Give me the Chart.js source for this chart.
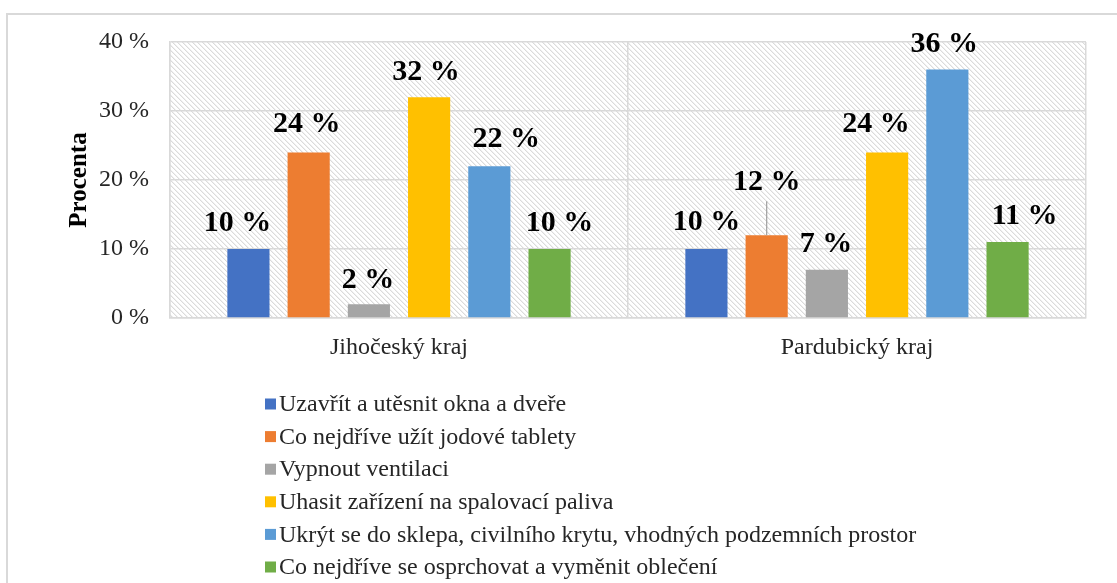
<!DOCTYPE html>
<html>
<head>
<meta charset="utf-8">
<script src="https://cdn.jsdelivr.net/npm/chart.js@4/dist/chart.umd.min.js"></script>
<style>
  html, body { margin: 0; padding: 0; background: #fff; }
  #wrap { position: relative; width: 1117px; height: 583px; overflow: hidden; }
  #frame { position: absolute; left: 6px; top: 13px; width: 1200px; height: 700px;
           border-top: 2px solid #d9d9d9; border-left: 2px solid #d9d9d9; }
  canvas { position: absolute; left: 0; top: 0; }
</style>
</head>
<body>
<div id="wrap">
  <div id="frame"></div>
  <canvas id="chart" width="1117" height="583"></canvas>
</div>
<script>
// regions on the x axis
const regions = ['Jihočeský kraj', 'Pardubický kraj'];

// answers (one series each), percent
const seriesNames = [
  'Uzavřít a utěsnit okna a dveře',
  'Co nejdříve užít jodové tablety',
  'Vypnout ventilaci',
  'Uhasit zařízení na spalovací paliva',
  'Ukrýt se do sklepa, civilního krytu, vhodných podzemních prostor',
  'Co nejdříve se osprchovat a vyměnit oblečení'
];
const closeWindows = [10, 10];
const iodineTablets = [24, 12];
const ventilationOff = [2, 7];
const fuelDevicesOff = [32, 24];
const shelter = [22, 36];
const showerChange = [10, 11];

const yTicks = [0, 10, 20, 30, 40];

const seriesColors = ['#4472C4', '#ED7D31', '#A5A5A5', '#FFC000', '#5B9BD5', '#70AD47'];

// small manual shifts of the value labels [dx, dy], like in the original
const labelNudge = [
  [[-11, 0], [0, -1]],
  [[-2, -2], [0, -27]],
  [[-1, 2], [-1, 0]],
  [[-3, 1], [-11, -2]],
  [[17, -1], [-3, 0]],
  [[10, 0], [17, 0]]
];

const serif = "'Liberation Serif', 'Times New Roman', serif";

// diagonal hatch for the plot area
function makeHatch() {
  const c = document.createElement('canvas');
  c.width = 5; c.height = 5;
  const g = c.getContext('2d');
  g.fillStyle = '#fff';
  g.fillRect(0, 0, 5, 5);
  for (let i = 0; i < 5; i++) {
    g.fillStyle = '#dbdbdb';
    g.fillRect(i, i, 1, 1);
    g.fillStyle = '#f0f0f0';
    g.fillRect((i + 1) % 5, i, 1, 1);
  }
  return c;
}

const hatchBackground = {
  id: 'hatchBackground',
  beforeDraw(chart) {
    const { ctx, chartArea: a } = chart;
    ctx.save();
    ctx.fillStyle = ctx.createPattern(makeHatch(), 'repeat');
    ctx.fillRect(a.left, a.top, a.right - a.left, a.bottom - a.top);
    ctx.restore();
  }
};

const valueLabels = {
  id: 'valueLabels',
  afterDatasetsDraw(chart) {
    const ctx = chart.ctx;
    ctx.save();
    ctx.font = 'bold 30px ' + serif;
    ctx.textAlign = 'center';
    ctx.textBaseline = 'alphabetic';
    chart.data.datasets.forEach((ds, si) => {
      chart.getDatasetMeta(si).data.forEach((bar, ci) => {
        const [dx, dy] = labelNudge[si][ci];
        const y = bar.y - 18 + dy;
        if (dy < -15) {
          ctx.strokeStyle = '#a6a6a6';
          ctx.lineWidth = 1.3;
          ctx.beginPath();
          ctx.moveTo(bar.x, y + 11);
          ctx.lineTo(bar.x, bar.y);
          ctx.stroke();
        }
        ctx.fillStyle = '#000';
        ctx.fillText(ds.data[ci] + ' %', bar.x + dx, y);
      });
    });
    ctx.restore();
  }
};

// legend as a single column below the plot
const columnLegend = {
  id: 'columnLegend',
  afterDraw(chart) {
    const ctx = chart.ctx;
    ctx.save();
    ctx.font = '24px ' + serif;
    ctx.textBaseline = 'middle';
    ctx.textAlign = 'left';
    chart.data.datasets.forEach((ds, i) => {
      const y = 404 + i * 32.6;
      ctx.fillStyle = ds.backgroundColor;
      ctx.fillRect(265, y - 5.5, 11, 11);
      ctx.fillStyle = '#262626';
      ctx.fillText(ds.label, 279, y + 1);
    });
    ctx.restore();
  }
};

const seriesValues = [closeWindows, iodineTablets, ventilationOff, fuelDevicesOff, shelter, showerChange];

new Chart(document.getElementById('chart'), {
  type: 'bar',
  data: {
    labels: regions,
    datasets: seriesValues.map((vals, i) => ({
      label: seriesNames[i],
      data: vals,
      backgroundColor: seriesColors[i],
      categoryPercentage: 0.789,
      barPercentage: 0.70
    }))
  },
  options: {
    responsive: false,
    animation: false,
    devicePixelRatio: 1,
    layout: { padding: { left: 0, right: 31, top: 42, bottom: 0 } },
    plugins: {
      legend: { display: false },
      tooltip: { enabled: false }
    },
    scales: {
      x: {
        grid: { color: '#d9d9d9', lineWidth: 1.5, drawTicks: false, offset: true },
        border: { color: '#d9d9d9', width: 1.5 },
        ticks: { color: '#262626', padding: 15, font: { family: serif, size: 24 } },
        afterFit(scale) { scale.height = 265; }
      },
      y: {
        min: 0,
        max: 40,
        afterBuildTicks(scale) { scale.ticks = yTicks.map(v => ({ value: v })); },
        grid: { color: '#d9d9d9', lineWidth: 1.5, drawTicks: false },
        border: { color: '#d9d9d9', width: 1.5 },
        ticks: {
          color: '#262626',
          padding: 21,
          font: { family: serif, size: 24 },
          callback: v => v + ' %'
        },
        title: {
          display: true,
          text: 'Procenta',
          color: '#000',
          font: { family: serif, size: 25, weight: 'bold' },
          padding: { top: 65, bottom: 0 }
        },
        afterFit(scale) { scale.width = 170; }
      }
    }
  },
  plugins: [hatchBackground, valueLabels, columnLegend]
});
</script>
</body>
</html>
